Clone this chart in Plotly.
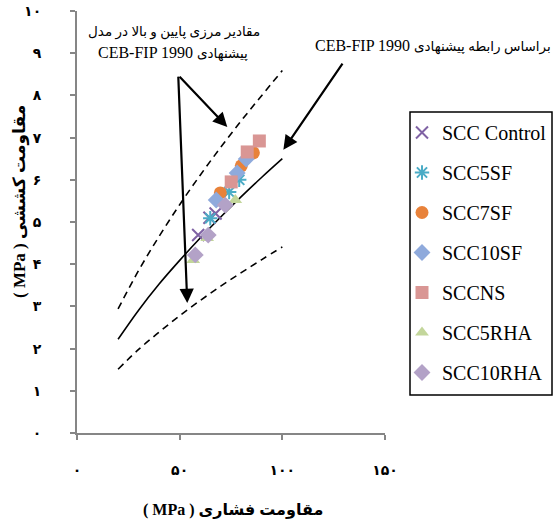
import plotly.graph_objects as go

# ---- data ----
series_names = ["SCC Control", "SCC5SF", "SCC7SF", "SCC10SF", "SCCNS", "SCC5RHA", "SCC10RHA"]
fc_control = [59.0, 64.5, 67.5]
ft_control = [4.69, 5.10, 5.20]
fc_5sf = [64.9, 74.1, 79.0]
ft_5sf = [5.09, 5.71, 6.00]
fc_7sf = [69.8, 80.0, 85.9]
ft_7sf = [5.69, 6.33, 6.64]
fc_10sf = [67.8, 78.0, 82.4]
ft_10sf = [5.52, 6.16, 6.49]
fc_ns = [75.1, 82.9, 88.8]
ft_ns = [5.95, 6.66, 6.92]
fc_5rha = [56.6, 63.4, 77.1]
ft_5rha = [4.10, 4.62, 5.52]
fc_10rha = [57.6, 63.9, 72.2]
ft_10rha = [4.22, 4.69, 5.40]

# CEB-FIP 1990 curves
curve_x = [20, 30, 40, 50, 60, 70, 80, 90, 100]
curve_mean = [2.22, 2.91, 3.53, 4.09, 4.62, 5.12, 5.60, 6.06, 6.50]
curve_low = [1.51, 1.98, 2.39, 2.78, 3.14, 3.48, 3.80, 4.11, 4.41]
curve_high = [2.94, 3.85, 4.66, 5.41, 6.11, 6.77, 7.40, 8.00, 8.59]

fa_digits = "۰۱۲۳۴۵۶۷۸۹"
def fa(n):
    return "".join(fa_digits[int(c)] for c in str(n))

y_tickvals = list(range(0, 11))
y_ticktext = [fa(v) for v in y_tickvals]
x_tickvals = [0, 50, 100, 150]
x_ticktext = [fa(v) for v in x_tickvals]

serif = "Liberation Serif, DejaVu Sans"

def fa_span(t, size=13.5):
    return '<span style="font-size:%spx">%s</span>' % (size, t)

fig = go.Figure()

for ys, dash in [(curve_high, "7px,5px"), (curve_low, "7px,5px"), (curve_mean, "solid")]:
    fig.add_trace(go.Scatter(x=curve_x, y=ys, mode="lines", line=dict(color="black", width=1.6, dash=dash, shape="spline"),
                             showlegend=False, hoverinfo="skip"))

styles = [
    (fc_control, ft_control, dict(symbol="x-thin-open", size=12, color="#7F62A4", line=dict(width=2, color="#7F62A4"))),
    (fc_5sf, ft_5sf, dict(symbol="asterisk-open", size=12, color="#4BACC6", line=dict(width=2, color="#4BACC6"))),
    (fc_7sf, ft_7sf, dict(symbol="circle", size=13, color="#E8823A")),
    (fc_10sf, ft_10sf, dict(symbol="diamond", size=13, color="#8FAADC")),
    (fc_ns, ft_ns, dict(symbol="square", size=13, color="#D99694")),
    (fc_5rha, ft_5rha, dict(symbol="triangle-up", size=12, color="#C3D69B")),
    (fc_10rha, ft_10rha, dict(symbol="diamond", size=13, color="#B3A2C7")),
]
for name, (xs, ys, mk) in zip(series_names, styles):
    fig.add_trace(go.Scatter(x=xs, y=ys, mode="markers", name=name, marker=mk, legendgroup=name))

axis_color = "#868686"
fig.update_xaxes(range=[0, 150], tickvals=x_tickvals, ticktext=x_ticktext, showgrid=False, zeroline=False,
                 showline=True, linecolor=axis_color, linewidth=2, ticks="outside", ticklen=5, tickcolor=axis_color,
                 tickwidth=1.5, ticklabelstandoff=18, automargin=False, ticklabeloverflow="allow",
                 tickfont=dict(family="DejaVu Sans", size=14, color="black", weight="bold"))
fig.update_yaxes(range=[0, 10], tickvals=y_tickvals, ticktext=y_ticktext, showgrid=False, zeroline=False,
                 showline=True, linecolor=axis_color, linewidth=2, ticks="outside", ticklen=5, tickcolor=axis_color,
                 tickwidth=1.5, ticklabelstandoff=26, automargin=False, ticklabeloverflow="allow",
                 tickfont=dict(family="DejaVu Sans", size=14, color="black", weight="bold"))

# paper coordinates from screen pixels (plot area: x 77..385, y 11..433)
def px(x):
    return (x - 77) / 308
def py(y):
    return (433 - y) / 422

ann = []
# axis titles
ann.append(dict(xref="paper", yref="paper", x=px(233), y=py(510), showarrow=False,
                xanchor="center", yanchor="middle",
                text="<b>( MPa ) مقاومت فشاری</b>", font=dict(family=serif, size=16, color="black")))
ann.append(dict(xref="paper", yref="paper", x=px(20), y=py(202), showarrow=False, textangle=-90,
                xanchor="center", yanchor="middle",
                text="<b>( MPa ) مقاومت کششی</b>", font=dict(family=serif, size=17, color="black")))
# text labels
ann.append(dict(xref="paper", yref="paper", x=px(174), y=py(32), showarrow=False,
                xanchor="center", yanchor="middle",
                text=fa_span("مقادیر مرزی پایین و بالا در مدل"), font=dict(family=serif, size=16, color="black")))
ann.append(dict(xref="paper", yref="paper", x=px(173), y=py(53), showarrow=False,
                xanchor="center", yanchor="middle",
                text="CEB-FIP 1990 " + fa_span("پیشنهادی"), font=dict(family=serif, size=16, color="black")))
ann.append(dict(xref="paper", yref="paper", x=px(433), y=py(46), showarrow=False,
                xanchor="center", yanchor="middle",
                text="CEB-FIP 1990 " + fa_span("براساس رابطه پیشنهادی"), font=dict(family=serif, size=16, color="black")))
# arrows
for (tx, ty, sx, sy) in [(73.2, 7.25, 49.3, 8.48), (53.7, 3.08, 49.3, 8.48), (100.5, 6.71, 129.8, 8.79)]:
    ann.append(dict(xref="x", yref="y", axref="x", ayref="y", x=tx, y=ty, ax=sx, ay=sy, showarrow=True,
                    arrowhead=2, arrowsize=1.3, arrowwidth=2.2, arrowcolor="black", text=""))

# legend frame drawn as a rectangle so the entries can sit closer to its left edge
shapes = [dict(type="rect", xref="paper", yref="paper", x0=px(410), x1=px(552), y0=py(395), y1=py(112),
               line=dict(color="black", width=1.5), fillcolor="rgba(0,0,0,0)", layer="above")]

fig.update_layout(
    width=557, height=527,
    margin=dict(l=77, r=172, t=11, b=94, autoexpand=False),
    paper_bgcolor="white", plot_bgcolor="white",
    annotations=ann,
    shapes=shapes,
    legend=dict(x=px(402), y=py(113), xanchor="left", yanchor="top",
                borderwidth=0, bgcolor="rgba(0,0,0,0)",
                font=dict(family="Liberation Serif", size=20, color="black"), tracegroupgap=11,
                itemwidth=30),
    showlegend=True,
)

# remove the browser's default 8px page margin so the figure fills the window
fig.write_html("out.html", config={"displayModeBar": False},
               post_script="document.body.style.margin='0';")
